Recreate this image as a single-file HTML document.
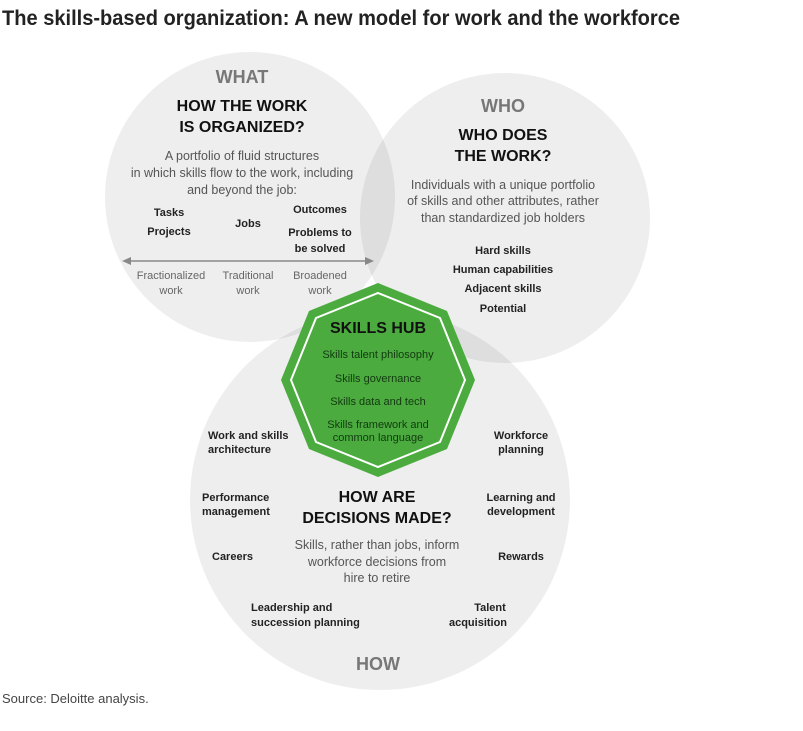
<!DOCTYPE html>
<html><head><meta charset="utf-8"><style>
body{margin:0;background:#fff;width:803px;height:731px;overflow:hidden}
svg{display:block}
text{font-family:"Liberation Sans",sans-serif}
</style></head><body>
<svg width="803" height="731" viewBox="0 0 803 731" xmlns="http://www.w3.org/2000/svg">
<text x="2" y="25" font-size="21" font-weight="bold" fill="#222" textLength="678" lengthAdjust="spacingAndGlyphs">The skills-based organization: A new model for work and the workforce</text>
<circle cx="250" cy="197" r="145" fill="#000" fill-opacity="0.065"/>
<circle cx="505" cy="218" r="145" fill="#000" fill-opacity="0.065"/>
<circle cx="380" cy="500" r="190" fill="#000" fill-opacity="0.065"/>
<polygon points="378,283 447,311 475,380 447,449 378,477 309,449 281,380 309,311" fill="#4bab3f"/>
<polygon points="378,293 440,318 465,380 440,442 378,467 316,442 291,380 316,318" fill="none" stroke="#fff" stroke-width="2"/>
<g text-anchor="middle">
<text x="242" y="83" font-size="18" font-weight="bold" fill="#777">WHAT</text>
<text x="242" y="111" font-size="16" font-weight="bold" fill="#111">HOW THE WORK</text>
<text x="242" y="132" font-size="16" font-weight="bold" fill="#111">IS ORGANIZED?</text>
<g font-size="12.5" fill="#555"><text x="242" y="160">A portfolio of fluid structures</text><text x="242" y="177">in which skills flow to the work, including</text><text x="242" y="194">and beyond the job:</text></g>
<g font-size="11" font-weight="bold" fill="#222">
<text x="169" y="216">Tasks</text><text x="169" y="235">Projects</text><text x="248" y="227">Jobs</text>
<text x="320" y="213">Outcomes</text><text x="320" y="236">Problems to</text><text x="320" y="252">be solved</text></g>
<g font-size="11" fill="#666"><text x="171" y="279">Fractionalized</text><text x="171" y="294">work</text><text x="248" y="279">Traditional</text><text x="248" y="294">work</text><text x="320" y="279">Broadened</text><text x="320" y="294">work</text></g>
<text x="503" y="112" font-size="18" font-weight="bold" fill="#777">WHO</text>
<text x="503" y="140" font-size="16" font-weight="bold" fill="#111">WHO DOES</text>
<text x="503" y="161" font-size="16" font-weight="bold" fill="#111">THE WORK?</text>
<g font-size="12.5" fill="#555"><text x="503" y="189">Individuals with a unique portfolio</text><text x="503" y="205">of skills and other attributes, rather</text><text x="503" y="222">than standardized job holders</text></g>
<g font-size="11" font-weight="bold" fill="#222"><text x="503" y="254">Hard skills</text><text x="503" y="273">Human capabilities</text><text x="503" y="292">Adjacent skills</text><text x="503" y="312">Potential</text></g>
<text x="378" y="333" font-size="16" font-weight="bold" fill="#111">SKILLS HUB</text>
<g font-size="11" fill="#123a10"><text x="378" y="358">Skills talent philosophy</text><text x="378" y="382">Skills governance</text><text x="378" y="405">Skills data and tech</text><text x="378" y="428">Skills framework and</text><text x="378" y="441">common language</text></g>
<text x="377" y="502" font-size="16" font-weight="bold" fill="#111">HOW ARE</text>
<text x="377" y="523" font-size="16" font-weight="bold" fill="#111">DECISIONS MADE?</text>
<g font-size="12.5" fill="#555"><text x="377" y="549">Skills, rather than jobs, inform</text><text x="377" y="566">workforce decisions from</text><text x="377" y="582">hire to retire</text></g>
<text x="378" y="670" font-size="18" font-weight="bold" fill="#777">HOW</text>
</g>
<line x1="128" y1="261" x2="368" y2="261" stroke="#888" stroke-width="1.5"/>
<polygon points="122,261 131,257 131,265" fill="#888"/><polygon points="374,261 365,257 365,265" fill="#888"/>
<g font-size="11" font-weight="bold" fill="#222">
<text x="208" y="439">Work and skills</text><text x="208" y="453">architecture</text>
<text x="202" y="501">Performance</text><text x="202" y="515">management</text>
<text x="212" y="560">Careers</text>
<text x="251" y="611">Leadership and</text><text x="251" y="626">succession planning</text>
<g text-anchor="middle"><text x="521" y="439">Workforce</text><text x="521" y="453">planning</text>
<text x="521" y="501">Learning and</text><text x="521" y="515">development</text>
<text x="521" y="560">Rewards</text>
<text x="490" y="611">Talent</text><text x="478" y="626">acquisition</text></g>
</g>
<text x="2" y="703" font-size="13" fill="#444">Source: Deloitte analysis.</text>
</svg>
</body></html>
